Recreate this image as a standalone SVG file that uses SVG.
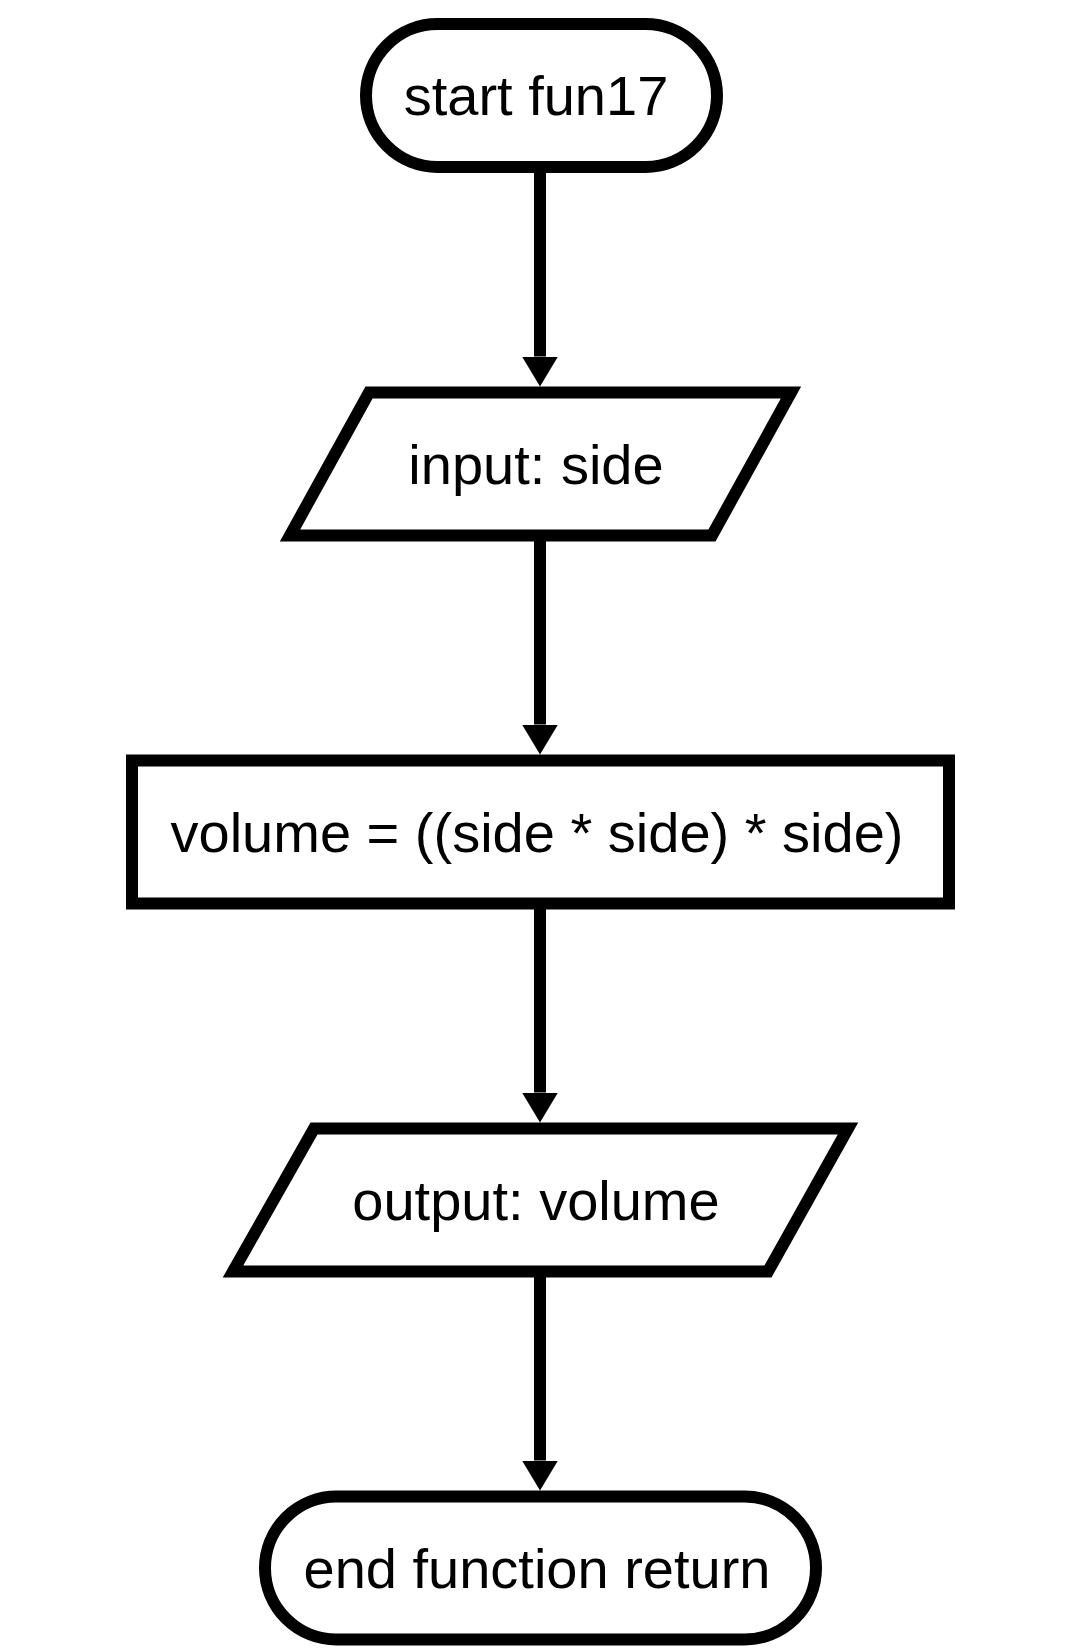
<svg xmlns="http://www.w3.org/2000/svg" width="1068" height="1652" viewBox="0 0 1068 1652">
  <style>
    .shape { fill: #ffffff; stroke: #000000; stroke-width: 12; }
    .label { font-family: "Liberation Sans", Arial, sans-serif; font-size: 56px; fill: #000000; text-anchor: middle; }
    .conn { stroke: #000000; stroke-width: 12; fill: none; }
  </style>
  <defs>
    <marker id="arrow" markerUnits="userSpaceOnUse" viewBox="0 0 30 36" refX="0" refY="18" markerWidth="30" markerHeight="36" orient="auto">
      <path d="M0,0 L30,18 L0,36 Z" fill="#000000"/>
    </marker>
  </defs>
  <rect x="0" y="0" width="1068" height="1652" fill="#ffffff"/>

  <g id="connectors">
    <line class="conn" x1="540" y1="167" x2="540" y2="356.5" marker-end="url(#arrow)"/>
    <line class="conn" x1="540" y1="535.5" x2="540" y2="724.5" marker-end="url(#arrow)"/>
    <line class="conn" x1="540" y1="903.5" x2="540" y2="1092.5" marker-end="url(#arrow)"/>
    <line class="conn" x1="540" y1="1271.5" x2="540" y2="1460.5" marker-end="url(#arrow)"/>
  </g>

  <g id="start">
    <rect class="shape" x="366" y="24" width="351" height="143" rx="71.5" ry="71.5"/>
    <text class="label" x="536" y="115">start fun17</text>
  </g>

  <g id="input">
    <polygon class="shape" points="369,392.5 791,392.5 712,535.5 290,535.5"/>
    <text class="label" x="536" y="484">input: side</text>
  </g>

  <g id="process">
    <rect class="shape" x="132" y="760.5" width="817" height="143"/>
    <text class="label" x="537" y="851.5">volume = ((side * side) * side)</text>
  </g>

  <g id="output">
    <polygon class="shape" points="314,1128.5 848,1128.5 768,1271.5 233,1271.5"/>
    <text class="label" x="536" y="1219.5">output: volume</text>
  </g>

  <g id="end">
    <rect class="shape" x="265" y="1496.5" width="551" height="143" rx="71.5" ry="71.5"/>
    <text class="label" x="537" y="1587.5">end function return</text>
  </g>
</svg>
